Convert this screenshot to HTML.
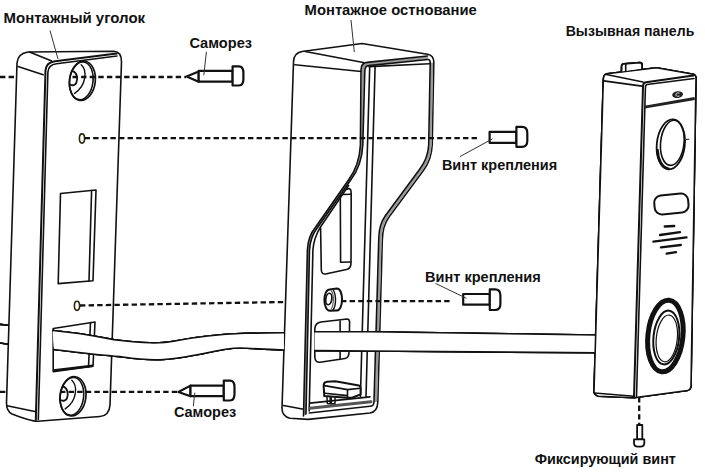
<!DOCTYPE html>
<html><head><meta charset="utf-8">
<style>
html,body{margin:0;padding:0;background:#fff;}
body{width:705px;height:474px;overflow:hidden;}
svg{display:block;}
text{font-family:"Liberation Sans",sans-serif;font-weight:bold;font-size:15.5px;fill:#111;}
.l{fill:none;stroke:#111;stroke-width:1.6;stroke-linejoin:round;stroke-linecap:round;}
.t{fill:none;stroke:#111;stroke-width:2;stroke-linejoin:round;stroke-linecap:round;}
.th{fill:none;stroke:#333;stroke-width:1;}
.d{fill:none;stroke:#111;stroke-width:2.3;stroke-dasharray:5.4 3.2;}
.s{fill:#fff;stroke:#111;stroke-width:2.2;stroke-linejoin:round;}
</style></head>
<body>
<svg width="705" height="474" viewBox="0 0 705 474">
<rect width="705" height="474" fill="#fff"/>

<!-- ================= TEXT LABELS ================= -->
<text x="3.5" y="22.9" textLength="141.6" lengthAdjust="spacingAndGlyphs">Монтажный уголок</text>
<text x="304.6" y="15.3" textLength="172.2" lengthAdjust="spacingAndGlyphs">Монтажное остнование</text>
<text x="565.7" y="35.6" textLength="128.6" lengthAdjust="spacingAndGlyphs">Вызывная панель</text>
<text x="189.4" y="47.8" textLength="62.6" lengthAdjust="spacingAndGlyphs">Саморез</text>
<text x="441.9" y="169.7" textLength="115.2" lengthAdjust="spacingAndGlyphs">Винт крепления</text>
<text x="425" y="281.8" textLength="115.8" lengthAdjust="spacingAndGlyphs">Винт крепления</text>
<text x="173.9" y="417.1" textLength="62.3" lengthAdjust="spacingAndGlyphs">Саморез</text>
<text x="534.7" y="463.8" textLength="141.2" lengthAdjust="spacingAndGlyphs">Фиксирующий винт</text>

<!-- ================= LEFT PLATE ================= -->
<g class="l">
<!-- outer outline -->
<path d="M17 63C17.5 57 21 53 28 52L114 51.2C119 51.5 121.5 55 121.5 62L110 405C109.5 412 106 416 100 416.5L37.5 421.3C33 421.5 20 417 12 414C8 412 6.5 409 6.5 403Z" fill="#fff"/>
<!-- top face diagonal -->
<path d="M29.5 52L51.7 61"/>
<!-- side bevel -->
<path d="M18 66.4L43.2 74.8"/>
<path d="M7.2 405.7L36 411.7"/>
</g>
<g class="t">
<!-- front face top edge + left edge (double) -->
<path d="M116.8 53.5L55 61.2C49.5 62 46 65 45.5 70L35.8 420"/>
</g>
<g class="l">
<path d="M117 56L56.5 63.8C51.5 64.5 48.2 67 47.9 72L38.3 419.5"/>
<!-- holes -->
<g id="hole">
<ellipse cx="82.4" cy="80.8" rx="12.9" ry="19.7" transform="rotate(7 82.4 80.8)" stroke-width="1.7"/>
<ellipse cx="81.3" cy="80.8" rx="11.7" ry="19" transform="rotate(7 81.3 80.8)"/>
<path d="M81.2 64.8C87 70 87 85 74.6 93.4" stroke-width="1.4"/>
<path d="M72.6 71.1C76.5 72 78.3 78 76.3 83C75.3 85 72.5 85.8 70.6 84.8" stroke-width="1.8"/>
</g>
<use href="#hole" transform="translate(-9.4 315.5)"/>
<!-- slot 1 -->
<path d="M60.5 193.5L96 190L93 280.7L58.2 283.6Z"/>
<path d="M91.6 190.5L89 281"/>
<!-- slot 2 -->
<path d="M53.2 328.5L95 322L93 366.3L53.2 371.6Z"/>
<path d="M90.5 322.5L88.5 367"/>
</g>
<path d="M53.2 370.5L93 365.8" stroke="#111" stroke-width="2.5"/>
<ellipse cx="82" cy="138.5" rx="2.6" ry="4.6" fill="none" stroke="#2a2a08" stroke-width="1.6"/>
<ellipse cx="77" cy="305.8" rx="2.6" ry="4.6" fill="none" stroke="#2a2a08" stroke-width="1.6"/>

<!-- ================= MIDDLE PIECE ================= -->
<g class="l">
<path d="M293.5 62C293.5 56.5 296.5 52.5 302 51.5L362 43.5L427.5 54.3C431.5 55 433.8 58 433.8 62.5L432.2 145Q431.5 160 423 171L389 217Q382.5 226 382.3 240L377.8 402Q377.5 412 370 413L308.2 419.4L290 418.2C284.5 417 282 413 282 408Z" fill="#fff"/>
<path d="M305.3 51.5L363.3 62.5"/>
<path d="M294.8 64.8L361.2 71.5"/>
<path d="M283.5 405.5L303.5 409.3"/>
</g>
<!-- frame gray bands -->
<g fill="none" stroke="#9a9a9a" stroke-width="2.4" stroke-linejoin="round">
<path d="M304.8 415L308.4 250Q309 236.5 316.6 227.2L349.6 180Q360.6 165.2 361.6 145L362.9 70.5Q363.1 64.2 367.7 64L427.7 57.7"/>
<path d="M431.9 62.7L430.5 145Q429.8 159.2 421.2 170.2L387.2 216.2Q380.7 225.2 380.5 239L375.9 402"/>
</g>
<g class="l">
<path d="M303.5 416L307.4 250Q308 236 315.5 227.2L348.5 180Q359.5 165 360.4 145L361 70Q361.2 62.8 367 62.4L427.5 56"/>
<path d="M306 414L309.5 250Q310.1 237 317.7 227.2L350.7 180Q361.8 165.5 362.8 145L364.8 71Q365 65.6 368.5 65.6L428 59.5"/>
<path d="M309.2 411L312.9 250Q313.7 238.5 320.3 227.2L348.6 185.5"/>
<path d="M428.5 59.5Q430.2 59.8 430.2 63L428.7 145Q428 158.5 419.5 169.5L385.5 215.5Q379 224.5 378.8 238L374 402Q373.8 406.3 370 406.3L309.2 413"/>
<!-- inner opening top -->
<path d="M369 66.6L429.6 63.8"/>
<!-- straight vertical lines -->
<path d="M369.7 67L360.4 397"/>
<path d="M375.1 66L366 397"/>
<!-- floor -->
<path d="M309.7 403.1L370 396.9"/>
<path d="M309.7 408.2L371 401.8" stroke="#555" stroke-width="3"/>
<!-- inner slot (recess) -->
<path d="M320.6 228L321.3 270Q321.6 274.5 325.5 274L346.5 269.5Q351 268.5 351 263L351.2 194L350.8 190Q349 187.5 346.3 189.5"/>
<path d="M340.3 195.5L340.6 262.3L350.5 262"/>
<path d="M342.5 194.5L351 194.3"/>
<!-- boss -->
<path d="M329.5 289.6L337 288.5C340.2 288.5 342 293.5 342 299.5C342 306 339.8 310.6 336.5 310.6L330 310.8C326.5 310.8 324.4 306 324.4 300C324.4 294 326.5 289.8 329.5 289.6Z" fill="#fff" stroke-width="2"/>
<path d="M333.5 290.5C335 293 335.6 297 335.5 300.5C335.4 305 334.5 308 333 310" stroke-width="1.4"/>
<path d="M331 290.3C333 292.5 333.6 296 333.4 300C333.2 304 332.4 307.5 331 309.5" stroke="#666" stroke-width="1.2"/>
<ellipse cx="328.8" cy="299" rx="3" ry="5.8" transform="rotate(8 328.8 299)" stroke-width="1.7"/>
<!-- cable slot -->
<path d="M349 352L349.6 322C349.5 320 348.5 319 347 319L321 322C317 322.5 315 325 314.8 329L314.8 357C315 361 317 362.5 320 362.2L345 358.5C348 358 349 356 349 352Z" fill="#fff"/>
<path d="M340.1 321L340.1 331.7 M340.1 350.6L340.1 359.5"/>
<!-- clip -->
<path d="M324.3 396.1L323.6 385.5Q323.8 382 327 381.8L335.3 381.3L358.9 385.5Q360.6 386 360.6 388L360.6 394.4L352.1 397.8L347 397.8Z" fill="#fff" stroke-width="2"/>
<path d="M324.5 385.6L347.5 389.6L360.4 388.2 M347.5 389.6L347.5 397.6 M325 393.3L347.3 395.6" stroke-width="1.6"/>
<path d="M327 397.5L327.3 403.5L330.2 403.7L330.2 397.8 M331.2 397.8L331.3 403.7L335 403.5L335 397.8" stroke-width="1.5"/>
</g>

<!-- ================= CABLE ================= -->
<path d="M53 330.5C70 332 95 336 113.8 339.6C125 341 135 342.6 150 342.8C160 343 165 343 175 341C195 337 215 334.5 245 333.3L283.6 332.8L283.6 350C270 349.5 255 348.5 240 348C228 348 215 351 203.2 353.6C185 357 170 360 155 359.8C140 359.6 130 358 119.8 356.6C100 355 75 352 54 349.5Z" fill="#fff"/>
<path d="M314.8 331.7L370 331.7L596.4 335L596.4 352.8L370 351L314.8 350.6Z" fill="#fff"/>
<g class="l">
<path d="M0 324.4L8 325.3"/>
<path d="M0 343L8 344.2"/>
<path d="M53 330.5C70 332 95 336 113.8 339.6C125 341 135 342.6 150 342.8C160 343 165 343 175 341C195 337 215 334.5 245 333.3L283.6 332.8"/>
<path d="M54 349.5C75 352 100 355 119.8 356.6C130 358 140 359.6 155 359.8C170 360 185 357 203.2 353.6C215 351 228 348 240 348C255 348.5 270 349.5 283.6 350"/>
<path d="M314.8 331.7L370 331.7L596.4 335"/>
<path d="M314.8 350.6L370 351L596.4 352.8"/>
</g>

<!-- ================= RIGHT PANEL ================= -->
<g class="l">
<path d="M603.3 80C603.3 76.5 604.8 74.3 607 73.8L656.5 67.7L693.4 74.3C695.5 75 696 76 696 78L691 386.7C690.5 389 689.5 390 687.5 390.5L634 397.7L598.5 396.2C595.8 395.5 594 393.5 594 391Z" fill="#fff"/>
<path d="M606.4 74.5L643 82"/>
<path d="M603.7 80.9L642 86.1"/>
<path d="M594.5 393L634 396.2"/>
<!-- tab -->
<path d="M621.5 71.6L621.7 66Q622 64 624 63.9L639.8 62.7Q642 62.8 642 65L642 68.6" fill="#fff" stroke-width="1.8"/>
<path d="M625.7 64.3L625.7 71"/>
</g>
<g class="t">
<path d="M693.4 75.6L646 82.2C644 82.5 643 84 643 86.5L634 397"/>
</g>
<g class="l">
<path d="M694 78.5L647 84.5C645.5 84.8 645.5 86 645.4 88L636.5 396.5"/>
<!-- camera -->
<ellipse cx="670.8" cy="144.4" rx="14" ry="25.1" transform="rotate(6 670.8 144.4)" stroke-width="1.8"/>
<ellipse cx="672.3" cy="142.8" rx="11.7" ry="22.7" transform="rotate(6 672.3 142.8)" stroke-width="1.6"/>
<path d="M657.5 150C658 160 662 167.5 668.5 168.8" stroke-width="2.6"/>
<path d="M686.3 139.4L689 139.2" stroke-width="1"/>
</g>
<!-- logo -->
<ellipse cx="677.6" cy="94.6" rx="5.5" ry="3.4" transform="rotate(-8 677.6 94.6)" fill="#222"/>
<path d="M679.5 93.2C677.5 92.3 675.5 93.3 675.8 95C676.2 96.5 678.2 96.5 679.5 96" fill="none" stroke="#fff" stroke-width="0.8"/>
<!-- dark band -->
<path d="M644.6 107.2L694.7 98.5" stroke="#222" stroke-width="2.8"/>
<!-- button -->
<rect x="654.4" y="194.5" width="34" height="19" rx="7" transform="rotate(-5.5 671.4 204)" fill="none" stroke="#111" stroke-width="2"/>
<!-- speaker -->
<g stroke="#111" stroke-width="2.3" stroke-linecap="round">
<line x1="664.7" y1="226.5" x2="674.2" y2="226"/>
<line x1="660" y1="235" x2="680" y2="232.2"/>
<line x1="653.3" y1="241.7" x2="686.5" y2="237.3"/>
<line x1="660.9" y1="247.4" x2="680.8" y2="245"/>
<line x1="666.6" y1="253.7" x2="676" y2="252.1"/>
</g>
<!-- call button -->
<ellipse cx="665.3" cy="336.2" rx="17.6" ry="35.1" transform="rotate(6 665.3 336.2)" fill="none" stroke="#111" stroke-width="6"/>
<ellipse cx="665.3" cy="336.2" rx="17.6" ry="35.1" transform="rotate(6 665.3 336.2)" fill="none" stroke="#555" stroke-width="0.6"/>
<ellipse cx="665.6" cy="336.9" rx="12.1" ry="28" transform="rotate(6 665.6 336.9)" fill="none" stroke="#111" stroke-width="2.8"/>
<ellipse cx="665.8" cy="337.3" rx="9.6" ry="23.3" transform="rotate(6 665.8 337.3)" fill="none" stroke="#111" stroke-width="1.2"/>

<!-- ================= CABLE ================= -->
<path d="M53 330.5C70 332 95 336 113.8 339.6C125 341 135 342.6 150 342.8C160 343 165 343 175 341C195 337 215 334.5 245 333.3L283.6 332.8L283.6 350C270 349.5 255 348.5 240 348C228 348 215 351 203.2 353.6C185 357 170 360 155 359.8C140 359.6 130 358 119.8 356.6C100 355 75 352 54 349.5Z" fill="#fff"/>
<path d="M314.8 331.7L370 331.7L596.4 335L596.4 352.8L370 351L314.8 350.6Z" fill="#fff"/>
<g class="l">
<path d="M0 324.4L8 325.3"/>
<path d="M0 343L8 344.2"/>
<path d="M53 330.5C70 332 95 336 113.8 339.6C125 341 135 342.6 150 342.8C160 343 165 343 175 341C195 337 215 334.5 245 333.3L283.6 332.8"/>
<path d="M54 349.5C75 352 100 355 119.8 356.6C130 358 140 359.6 155 359.8C170 360 185 357 203.2 353.6C215 351 228 348 240 348C255 348.5 270 349.5 283.6 350"/>
<path d="M314.8 331.7L370 331.7L596.4 335"/>
<path d="M314.8 350.6L370 351L596.4 352.8"/>
</g>

<!-- ================= RIGHT PANEL ================= -->
<g class="l">
<path d="M603.3 80C603.3 76.5 604.8 74.3 607 73.8L656.5 67.7L693.4 74.3C695.5 75 696 76 696 78L691 386.7C690.5 389 689.5 390 687.5 390.5L634 397.7L598.5 396.2C595.8 395.5 594 393.5 594 391Z" fill="#fff"/>
<path d="M606.4 74.5L643 82"/>
<path d="M603.7 80.9L642 86.1"/>
<path d="M594.5 393L634 396.2"/>
<!-- tab -->
<path d="M621.5 71.6L621.7 66Q622 64 624 63.9L639.8 62.7Q642 62.8 642 65L642 68.6" fill="#fff" stroke-width="1.8"/>
<path d="M625.7 64.3L625.7 71"/>
</g>
<g class="t">
<path d="M693.4 75.6L646 82.2C644 82.5 643 84 643 86.5L634 397"/>
</g>
<g class="l">
<path d="M694 78.5L647 84.5C645.5 84.8 645.5 86 645.4 88L636.5 396.5"/>
<!-- camera -->
<ellipse cx="670.8" cy="144.4" rx="14" ry="25.1" transform="rotate(6 670.8 144.4)" stroke-width="1.8"/>
<ellipse cx="672.3" cy="142.8" rx="11.7" ry="22.7" transform="rotate(6 672.3 142.8)" stroke-width="1.6"/>
<path d="M657.5 150C658 160 662 167.5 668.5 168.8" stroke-width="2.6"/>
<path d="M686.3 139.4L689 139.2" stroke-width="1"/>
</g>
<!-- logo -->
<ellipse cx="677.6" cy="94.6" rx="5.5" ry="3.4" transform="rotate(-8 677.6 94.6)" fill="#222"/>
<path d="M679.5 93.2C677.5 92.3 675.5 93.3 675.8 95C676.2 96.5 678.2 96.5 679.5 96" fill="none" stroke="#fff" stroke-width="0.8"/>
<!-- dark band -->
<path d="M644.6 107.2L694.7 98.5" stroke="#222" stroke-width="2.8"/>
<!-- button -->
<rect x="654.4" y="194.5" width="34" height="19" rx="7" transform="rotate(-5.5 671.4 204)" fill="none" stroke="#111" stroke-width="2"/>
<!-- speaker -->
<g stroke="#111" stroke-width="2.3" stroke-linecap="round">
<line x1="664.7" y1="226.5" x2="674.2" y2="226"/>
<line x1="660" y1="235" x2="680" y2="232.2"/>
<line x1="653.3" y1="241.7" x2="686.5" y2="237.3"/>
<line x1="660.9" y1="247.4" x2="680.8" y2="245"/>
<line x1="666.6" y1="253.7" x2="676" y2="252.1"/>
</g>
<!-- call button -->
<ellipse cx="665.4" cy="336.2" rx="17.3" ry="35.2" transform="rotate(6 665.4 336.2)" fill="none" stroke="#111" stroke-width="5.6"/>
<ellipse cx="665.4" cy="336.2" rx="17.3" ry="35.2" transform="rotate(6 665.4 336.2)" fill="none" stroke="#555" stroke-width="0.6"/>
<ellipse cx="666.2" cy="337.5" rx="12.9" ry="28.7" transform="rotate(6 666.2 337.5)" fill="none" stroke="#111" stroke-width="2.4"/>
<ellipse cx="666.8" cy="337.8" rx="10.6" ry="23.5" transform="rotate(6 666.8 337.8)" fill="none" stroke="#111" stroke-width="1.2"/>

<!-- ================= CABLE ================= -->
<path d="M53 330.5C70 332 95 336 113.8 339.6C125 341 135 342.6 150 342.8C160 343 165 343 175 341C195 337 215 334.5 245 333.3L283.6 332.8L283.6 350C270 349.5 255 348.5 240 348C228 348 215 351 203.2 353.6C185 357 170 360 155 359.8C140 359.6 130 358 119.8 356.6C100 355 75 352 54 349.5Z" fill="#fff"/>
<path d="M314.8 331.7L370 331.7L596.4 335L596.4 352.8L370 351L314.8 350.6Z" fill="#fff"/>
<g class="l">
<path d="M0 324.4L8 325.3"/>
<path d="M0 343L8 344.2"/>
<path d="M53 330.5C70 332 95 336 113.8 339.6C125 341 135 342.6 150 342.8C160 343 165 343 175 341C195 337 215 334.5 245 333.3L283.6 332.8"/>
<path d="M54 349.5C75 352 100 355 119.8 356.6C130 358 140 359.6 155 359.8C170 360 185 357 203.2 353.6C215 351 228 348 240 348C255 348.5 270 349.5 283.6 350"/>
<path d="M314.8 331.7L370 331.7L596.4 335"/>
<path d="M314.8 350.6L370 351L596.4 352.8"/>
</g>

<!-- ================= RIGHT PANEL ================= -->
<g class="l">
<path d="M603.3 80C603.3 76.5 604.8 74.3 607 73.8L656.5 67.7L693.4 74.3C695.5 75 696 76 696 78L691 386.7C690.5 389 689.5 390 687.5 390.5L634 397.7L598.5 396.2C595.8 395.5 594 393.5 594 391Z" fill="#fff"/>
<path d="M606.4 74.5L643 82"/>
<path d="M603.7 80.9L642 86.1"/>
<path d="M594.5 393L634 396.2"/>
<!-- tab -->
<path d="M621.5 71.6L621.7 66Q622 64 624 63.9L639.8 62.7Q642 62.8 642 65L642 68.6" fill="#fff" stroke-width="1.8"/>
<path d="M625.7 64.3L625.7 71"/>
</g>
<g class="t">
<path d="M693.4 75.6L646 82.2C644 82.5 643 84 643 86.5L634 397"/>
</g>
<g class="l">
<path d="M694 78.5L647 84.5C645.5 84.8 645.5 86 645.4 88L636.5 396.5"/>
<!-- camera -->
<ellipse cx="670.8" cy="144.4" rx="14" ry="25.1" transform="rotate(6 670.8 144.4)" stroke-width="1.8"/>
<ellipse cx="672.3" cy="142.8" rx="11.7" ry="22.7" transform="rotate(6 672.3 142.8)" stroke-width="1.6"/>
<path d="M657.5 150C658 160 662 167.5 668.5 168.8" stroke-width="2.6"/>
<path d="M686.3 139.4L689 139.2" stroke-width="1"/>
</g>
<!-- logo -->
<ellipse cx="677.6" cy="94.6" rx="5.5" ry="3.4" transform="rotate(-8 677.6 94.6)" fill="#222"/>
<path d="M679.5 93.2C677.5 92.3 675.5 93.3 675.8 95C676.2 96.5 678.2 96.5 679.5 96" fill="none" stroke="#fff" stroke-width="0.8"/>
<!-- dark band -->
<path d="M644.6 107.2L694.7 98.5" stroke="#222" stroke-width="2.8"/>
<!-- button -->
<rect x="654.4" y="194.5" width="34" height="19" rx="7" transform="rotate(-5.5 671.4 204)" fill="none" stroke="#111" stroke-width="2"/>
<!-- speaker -->
<g stroke="#111" stroke-width="2.3" stroke-linecap="round">
<line x1="664.7" y1="226.5" x2="674.2" y2="226"/>
<line x1="660" y1="235" x2="680" y2="232.2"/>
<line x1="653.3" y1="241.7" x2="686.5" y2="237.3"/>
<line x1="660.9" y1="247.4" x2="680.8" y2="245"/>
<line x1="666.6" y1="253.7" x2="676" y2="252.1"/>
</g>
<!-- call button -->
<ellipse cx="665.4" cy="336" rx="17.5" ry="36" transform="rotate(6 665.4 336)" fill="none" stroke="#111" stroke-width="5"/>
<ellipse cx="666.3" cy="337.5" rx="12.8" ry="27" transform="rotate(6 666.3 337.5)" fill="none" stroke="#111" stroke-width="2"/>
<ellipse cx="666.8" cy="338.4" rx="10.5" ry="23.5" transform="rotate(6 666.8 338.4)" fill="none" stroke="#111" stroke-width="1.2"/>

<!-- ================= DASHED LINES ================= -->
<path class="d" d="M0 77H16 M72.5 77H186"/>
<path class="d" d="M84.6 138.2H480"/>
<path class="d" d="M80 305.5L285 302 M341 301.2H452"/>
<path class="d" d="M0 391.8H8 M60 391.8H178"/>
<path class="d" d="M639.2 397V424"/>



<!-- ================= SCREWS ================= -->
<g class="s">
<path d="M186.6 76.6L198.7 71.5L198.7 81.7Z"/>
<rect x="198.7" y="70.9" width="33.9" height="10.8"/>
<path d="M232.6 66.4H239C242 66.4 243.4 69 243.4 73V79C243.4 83 242 85.5 239 85.5H232.6Z"/>
<rect x="489.6" y="131.9" width="26.8" height="10.9"/>
<path d="M516.4 126.9H522C525.5 126.9 527.3 129 527.3 133V141C527.3 144.5 525.5 146.8 522 146.8H516.4Z"/>
<rect x="463.2" y="294" width="26.6" height="10.7"/>
<path d="M489.8 289.4H495C498.5 289.4 500.4 291.5 500.4 295.5V304C500.4 308 498.5 310 495 310H489.8Z"/>
<path d="M178.4 392L190.5 385.6L190.5 396.2Z"/>
<rect x="190.5" y="385.6" width="33.3" height="10.6"/>
<path d="M223.8 380.6H230C233 380.6 234.5 383 234.5 387V394C234.5 398 233 400.5 230 400.5H223.8Z"/>
<rect x="637.1" y="425" width="5.2" height="14.4" stroke-width="1.8"/>
<path d="M634 439.4H644.3V443C644.3 445.5 643 446.6 640.5 446.6H637.8C635.3 446.6 634 445.5 634 443Z" stroke-width="1.8"/>
</g>
<!-- leader lines -->
<g class="th">
<line x1="50" y1="30.6" x2="58" y2="59"/>
<line x1="351" y1="20" x2="354.3" y2="52"/>
<line x1="206.4" y1="51.7" x2="203.8" y2="75.3"/>
<line x1="492.5" y1="138.8" x2="459.8" y2="156.7"/>
<line x1="435.5" y1="283.4" x2="466.4" y2="298.3"/>
<line x1="194.8" y1="392.7" x2="193.3" y2="406.2"/>
</g>
</svg>
</body></html>
